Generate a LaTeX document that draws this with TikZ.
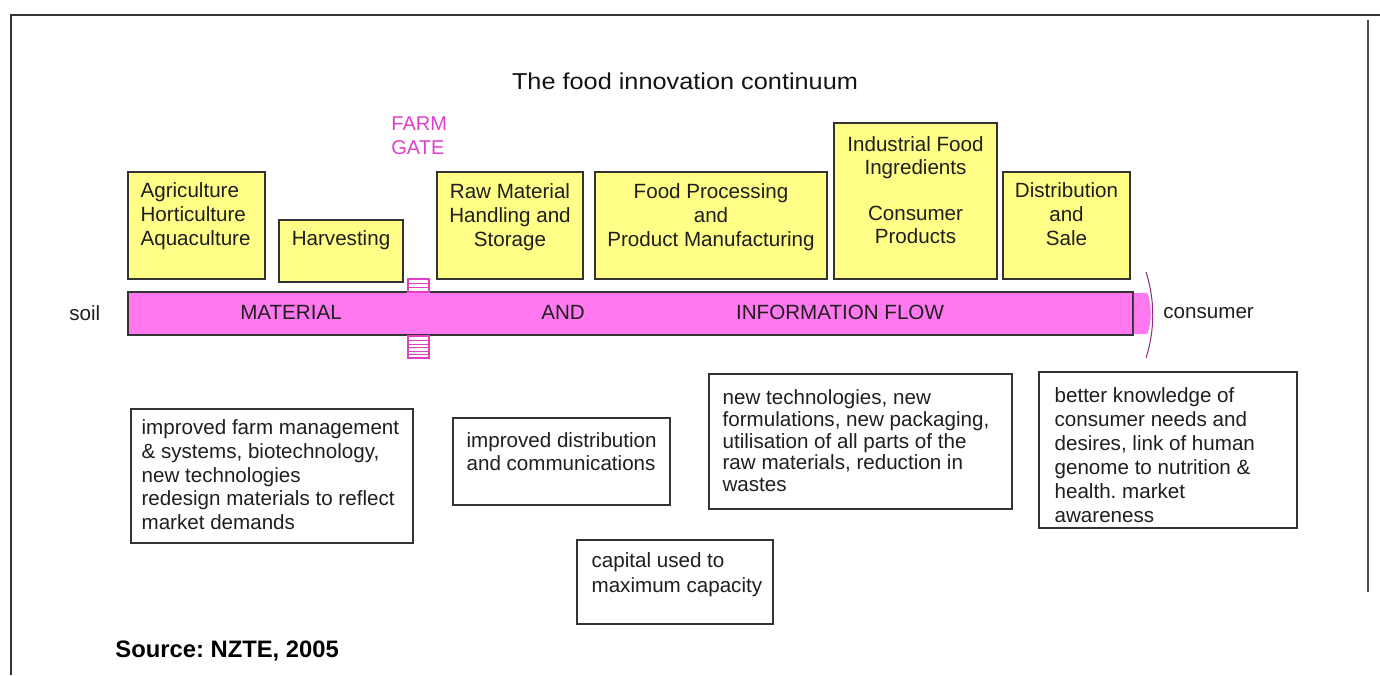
\documentclass[tikz,border=0pt]{standalone}
\usepackage{fontspec}
\setmainfont{Liberation Sans}
\usetikzlibrary{fit,calc}
\definecolor{boxyellow}{HTML}{FFFF88}
\definecolor{flowpink}{HTML}{FF78F0}
\definecolor{gatepink}{HTML}{E040C8}
\definecolor{edgegray}{HTML}{333333}
\definecolor{headline}{HTML}{8A2A78}
\frenchspacing
\begin{document}
\begin{tikzpicture}[x=0.5pt,y=-0.5pt,
  ybox/.style={draw=edgegray,fill=boxyellow,line width=0.8pt,inner sep=0pt},
  wbox/.style={draw=edgegray,fill=white,line width=0.8pt,inner sep=0pt},
  flowbar/.style={draw=edgegray,fill=flowpink,line width=0.8pt,inner sep=0pt},
  gatebox/.style={draw=gatepink,fill=white,line width=0.6pt,inner sep=0pt},
  gateline/.style={draw=gatepink,line width=0.5pt},
  ytext/.style={inner sep=0pt,text=black!88,anchor=north,align=center,font=\fontsize{10.3}{12}\selectfont},
  wtext/.style={inner sep=0pt,text=black!88,align=left,anchor=north west},
  bartext/.style={inner sep=0pt,text=black!88,anchor=base,font=\fontsize{10.3}{12}\selectfont},
  frameline/.style={line width=1pt,draw=black!80},
]
\useasboundingbox (0,0) rectangle (1380,675);
% outer frame
\coordinate (ftl) at (11,15);
\coordinate (ftr) at (1380,15);
\coordinate (fbl) at (11,675);
\draw[frameline] (fbl) -- (ftl) -- (ftr);
\coordinate (rt) at (1368,20);
\coordinate (rb) at (1368,592);
\draw[line width=1.3pt,black!70] (rt) -- (rb);

% title
\node[inner sep=0pt,anchor=north,text=black!92,font=\fontsize{11.5}{13}\selectfont] (title) at (685,72) {\scalebox{1.1}[1]{The food innovation continuum}};

% farm gate label
\node[inner sep=0pt,anchor=north west,align=left,text=gatepink,font=\fontsize{10}{12}\selectfont] (gate) at (391,116) {FARM\\GATE};

% yellow stage boxes
\node[ybox,fit={(128,172)(265,279)}] (b1) {};
\node[ytext,anchor=north west,align=left] (t1) at ($(b1.north west)+(13,11)$) {Agriculture\\Horticulture\\Aquaculture};
\node[ybox,fit={(279,220)(403,282)}] (b2) {};
\node[ytext] (t2) at ($(b2.north)+(0,11)$) {Harvesting};
\node[ybox,fit={(437,172)(583,279)}] (b3) {};
\node[ytext] (t3) at ($(b3.north)+(0,12)$) {Raw Material\\Handling and\\Storage};
\node[ybox,fit={(595,172)(827,279)}] (b4) {};
\node[ytext] (t4) at ($(b4.north)+(0,12)$) {Food Processing\\and\\Product Manufacturing};
\node[ybox,fit={(834,123)(997,279)}] (b5) {};
\node[ytext,font=\fontsize{10.3}{11.5}\selectfont] (t5) at ($(b5.north)+(0,14)$) {Industrial Food\\Ingredients\\[11.5pt]Consumer\\Products};
\node[ybox,fit={(1003,172)(1130,279)}] (b6) {};
\node[ytext] (t6) at ($(b6.north)+(0,11)$) {Distribution\\and\\Sale};

% flow bar
\node[flowbar,fit={(128,292)(1133,335)}] (bar) {};
\fill[flowpink] (1133.8,292.8) -- (1147,292.8) .. controls (1152,302) and (1152,325) .. (1147,334.2) -- (1133.8,334.2) -- cycle;
\coordinate (ht) at (1146,272);
\coordinate (hb) at (1146,358);
\draw[headline,line width=0.5pt] (ht) .. controls (1155,300) and (1155,330) .. (hb);
\node[bartext] (m1) at (291,319) {MATERIAL};
\node[bartext] (m2) at (563,319) {AND};
\node[bartext] (m3) at (840,319) {INFORMATION FLOW};
\node[bartext,anchor=base west] (soil) at (69,320) {soil};
\node[bartext,anchor=base west] (cons) at (1163,318) {consumer};

% farm gate markers
\node[gatebox,fit={(408,279)(429,292)}] (g1) {};
\foreach \yy in {283,287} \draw[gateline] (g1.west |- 0,\yy) -- (g1.east |- 0,\yy);
\node[gatebox,fit={(408,336)(429,358)}] (g2) {};
\foreach \yy in {340,344,347,351,354} \draw[gateline] (g2.west |- 0,\yy) -- (g2.east |- 0,\yy);

% white comment boxes
\node[wbox,fit={(131,409)(413,543)}] (wA) {};
\node[wtext,font=\fontsize{10.3}{11.9}\selectfont] (tA) at ($(wA.north west)+(11,11)$) {improved farm management\\\& systems, biotechnology,\\new technologies\\redesign materials to reflect\\market demands};
\node[wbox,fit={(453,418)(670,505)}] (wB) {};
\node[wtext,font=\fontsize{10.3}{11.5}\selectfont] (tB) at ($(wB.north west)+(14,15)$) {improved distribution\\and communications};
\node[wbox,fit={(577,540)(773,624)}] (wC) {};
\node[wtext,font=\fontsize{10.3}{12.5}\selectfont] (tC) at ($(wC.north west)+(15,13)$) {capital used to\\maximum capacity};
\node[wbox,fit={(709,374)(1012,509)}] (wD) {};
\node[wtext,font=\fontsize{10.3}{10.9}\selectfont] (tD) at ($(wD.north west)+(14,16)$) {new technologies, new\\formulations, new packaging,\\utilisation of all parts of the\\raw materials, reduction in\\wastes};
\node[wbox,fit={(1039,372)(1297,528)}] (wE) {};
\node[wtext,font=\fontsize{10.3}{12}\selectfont] (tE) at ($(wE.north west)+(16,16)$) {better knowledge of\\consumer needs and\\desires, link of human\\genome to nutrition \&\\health. market\\awareness};

% source
\node[inner sep=0pt,anchor=base west,text=black,font=\bfseries\fontsize{11.9}{14}\selectfont] (src) at (115,657) {Source: NZTE, 2005};
\end{tikzpicture}
\end{document}
